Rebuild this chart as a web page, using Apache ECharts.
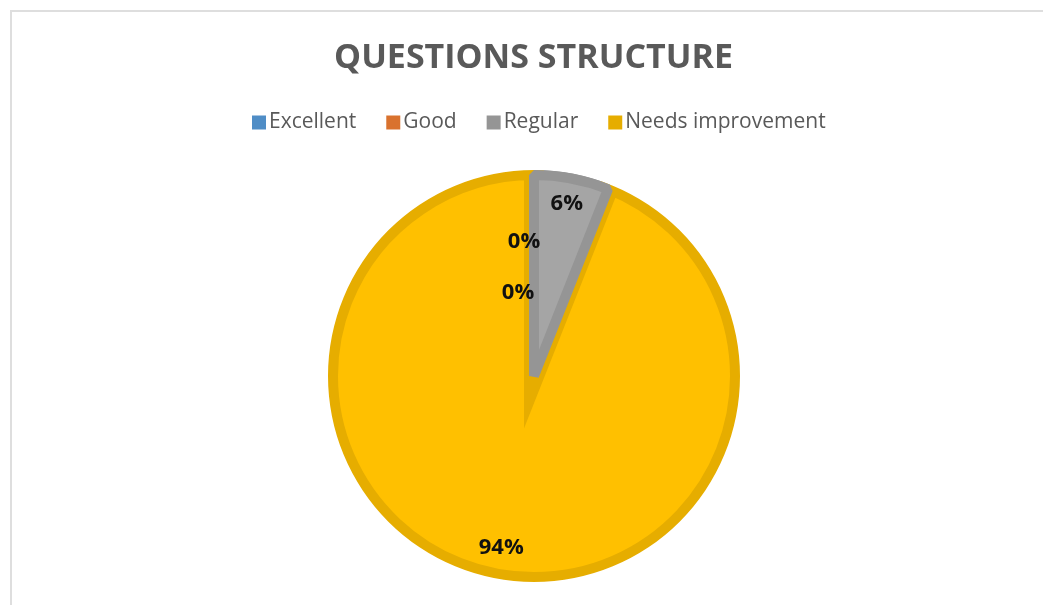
<!DOCTYPE html>
<html>
<head>
<meta charset="utf-8">
<script src="https://cdn.jsdelivr.net/npm/echarts@6/dist/echarts.min.js"></script>
<style>
  html, body { margin: 0; padding: 0; background: #ffffff; overflow: hidden; }
  #frame { position: absolute; left: 10px; top: 10px; width: 1100px; height: 700px;
           border-top: 2px solid #dedede; border-left: 2px solid #dedede; }
  #chart { position: absolute; left: 12px; top: 0; width: 1043px; height: 605px; }
</style>
</head>
<body>
<div id="frame"></div>
<div id="chart"></div>
<script>
const titleText = 'QUESTIONS STRUCTURE';
const categories = ['Excellent', 'Good', 'Regular', 'Needs improvement'];
const values = [0, 0, 6, 94];
const fillColors = ['#5B9BD5', '#ED7D31', '#A5A5A5', '#FFC000'];
const edgeColors = ['#4F8DC6', '#D9722E', '#959595', '#E6AD00'];

const chart = echarts.init(document.getElementById('chart'), null, { renderer: 'canvas' });

const center = [522, 376];
const R = 206;

// base layer: light fill with a wide darker edge (outer half hidden by the white ring)
const baseData = categories.map((c, i) => ({
  name: c, value: values[i],
  itemStyle: { color: fillColors[i], borderColor: edgeColors[i],
               borderWidth: values[i] > 0 ? 20 : 0, borderJoin: 'miter', borderMiterLimit: 10 }
}));
// small slices redrawn on top so their own edge colour shows
const overlayData = categories.map((c, i) => ({
  name: c, value: values[i],
  itemStyle: (i === categories.length - 1 || values[i] === 0)
    ? { color: 'transparent', borderColor: 'transparent', borderWidth: 0 }
    : { color: fillColors[i], borderColor: edgeColors[i], borderWidth: 10, borderJoin: 'bevel' }
}));
const labelData = categories.map((c, i) => ({
  name: c, value: values[i],
  itemStyle: { color: 'transparent', borderWidth: 0 }
}));

const common = {
  type: 'pie', center: center, startAngle: 90, clockwise: true, silent: true,
  label: { show: false }, labelLine: { show: false }, emphasis: { disabled: true }
};

chart.setOption({
  animation: false,
  backgroundColor: 'transparent',
  title: {
    text: titleText,
    left: 'center',
    top: 36,
    textStyle: { fontFamily: 'Open Sans', fontWeight: 'bold', fontSize: 34, color: '#595959' }
  },
  legend: {
    top: 112,
    left: 240,
    padding: 0,
    itemWidth: 14,
    itemHeight: 14,
    itemGap: 30,
    icon: 'rect',
    textStyle: { fontFamily: 'Open Sans', fontSize: 21, color: '#595959', padding: [0, 0, 0, -2] },
    data: categories.map((c, i) => ({ name: c, itemStyle: { color: edgeColors[i], borderWidth: 0 } }))
  },
  series: [
    Object.assign({}, common, { radius: R, data: baseData }),
    Object.assign({}, common, {
      radius: [R, R + 30],
      data: [{ name: '_ring', value: 1, itemStyle: { color: '#ffffff', borderWidth: 0 } }]
    }),
    Object.assign({}, common, { radius: R - 5, data: overlayData }),
    {
      type: 'pie',
      center: center,
      radius: [0, 344],
      startAngle: 90,
      clockwise: true,
      silent: true,
      emphasis: { disabled: true },
      labelLine: { show: false },
      label: {
        show: true,
        position: 'inside',
        fontFamily: 'Open Sans',
        fontWeight: 'bold',
        fontSize: 22,
        color: '#111111',
        formatter: p => Math.round(p.percent) + '%'
      },
      labelLayout: function (params) {
        if (params.dataIndex === 0) return { dx: -10, dy: 41 };
        if (params.dataIndex === 1) return { dx: -16, dy: 92 };
        return {};
      },
      data: labelData
    }
  ]
});
</script>
</body>
</html>
